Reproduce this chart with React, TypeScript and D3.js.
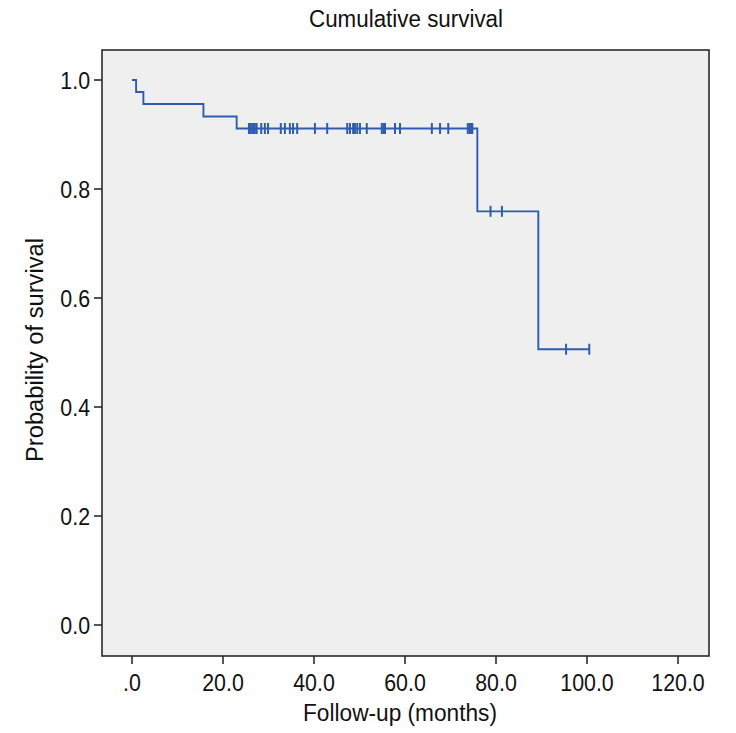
import React from "react";
import * as d3 from "d3";

// Event (death) times and survival after each step
const eventTimes = [0.9, 2.5, 15.7, 23.0, 75.9, 89.3];
const eventSurvival = [0.978, 0.956, 0.933, 0.911, 0.759, 0.506];
// Censored observations: times
const censorTimes = [
  25.7, 26.0, 26.4, 26.7, 27.0, 27.4, 28.4, 29.2, 29.9, 32.7, 33.6, 34.7, 35.4, 36.3,
  40.2, 42.9, 47.3, 47.9, 48.6, 49.0, 49.5, 50.1, 51.6, 54.9, 55.3, 55.6, 57.8, 58.9,
  65.9, 67.7, 69.5, 73.8, 74.2, 74.5, 74.8, 78.8, 81.3, 95.4, 100.5,
];
const xTicks = [0, 20, 40, 60, 80, 100, 120];
const xTickLabels = [".0", "20.0", "40.0", "60.0", "80.0", "100.0", "120.0"];
const yTicks = [0, 0.2, 0.4, 0.6, 0.8, 1.0];
const yTickLabels = ["0.0", "0.2", "0.4", "0.6", "0.8", "1.0"];
const startSurvival = 1.0;
const lastTime = 100.5;

const W = 736;
const H = 733;
const box = { left: 102, right: 709, top: 50, bottom: 656 };
const FONT = "'Liberation Sans', Arial, sans-serif";
const SX = 0.89;

function Txt(props: {
  x: number;
  y: number;
  anchor: string;
  size: number;
  children: string;
  rotate?: number;
  len?: number;
}) {
  const { x, y, anchor, size, children, rotate, len } = props;
  const tr = `translate(${x},${y})${rotate ? ` rotate(${rotate})` : ""}${len ? "" : ` scale(${SX},1)`}`;
  return (
    <text
      transform={tr}
      textAnchor={anchor}
      fontFamily={FONT}
      fontSize={size}
      fill="#111"
      {...(len ? { textLength: len, lengthAdjust: "spacingAndGlyphs" } : {})}
    >
      {children}
    </text>
  );
}

export default function App() {
  const x = d3.scaleLinear().domain([0, 120]).range([132, 678]);
  const y = d3.scaleLinear().domain([0, 1]).range([625, 80]);

  const survAt = (t: number) => {
    let s = startSurvival;
    eventTimes.forEach((et, i) => {
      if (et <= t) s = eventSurvival[i];
    });
    return s;
  };
  const pts: [number, number][] = [[0, startSurvival]];
  eventTimes.forEach((t, i) => pts.push([t, eventSurvival[i]]));
  pts.push([lastTime, survAt(lastTime)]);
  const line = d3
    .line<[number, number]>()
    .x((d) => x(d[0]))
    .y((d) => y(d[1]))
    .curve(d3.curveStepAfter);

  const blue = "#2f5cb0";
  const dark = "#2a2a2a";

  return (
    <svg
      width={W}
      height={H}
      style={{ position: "absolute", left: 0, top: 0, background: "#fff" }}
    >
      <Txt x={406} y={27} anchor="middle" size={23} len={194}>
        Cumulative survival
      </Txt>
      <rect
        x={box.left}
        y={box.top}
        width={box.right - box.left}
        height={box.bottom - box.top}
        fill="#efefef"
        stroke={dark}
        strokeWidth={1.6}
      />
      {yTicks.map((v, i) => (
        <g key={"y" + i}>
          <line x1={box.left - 8} x2={box.left} y1={y(v)} y2={y(v)} stroke={dark} strokeWidth={1.6} />
          <Txt x={box.left - 12} y={y(v) + 8.5} anchor="end" size={24}>
            {yTickLabels[i]}
          </Txt>
        </g>
      ))}
      {xTicks.map((v, i) => (
        <g key={"x" + i}>
          <line x1={x(v)} x2={x(v)} y1={box.bottom} y2={box.bottom + 8} stroke={dark} strokeWidth={1.6} />
          <Txt x={x(v)} y={691} anchor="middle" size={24}>
            {xTickLabels[i]}
          </Txt>
        </g>
      ))}
      <Txt x={400} y={721} anchor="middle" size={23} len={194}>
        Follow-up (months)
      </Txt>
      <Txt x={43} y={350} anchor="middle" size={23} rotate={-90} len={224}>
        Probability of survival
      </Txt>
      <path d={line(pts) || ""} fill="none" stroke={blue} strokeWidth={1.9} />
      {censorTimes.map((t, i) => (
        <line
          key={"c" + i}
          x1={x(t)}
          x2={x(t)}
          y1={y(survAt(t)) - 5.5}
          y2={y(survAt(t)) + 5.5}
          stroke={blue}
          strokeWidth={2}
        />
      ))}
    </svg>
  );
}
